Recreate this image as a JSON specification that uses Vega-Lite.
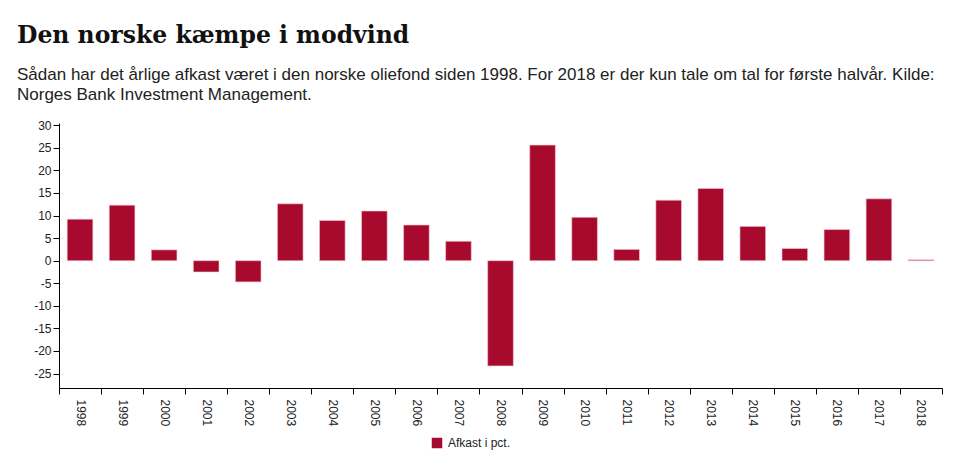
{
  "$schema": "https://vega.github.io/schema/vega-lite/v6.json",
  "autosize": {"type": "none"},
  "width": 883,
  "height": 265,
  "padding": {"left": 59, "top": 123, "right": 18, "bottom": 64},
  "background": "white",
  "title": {
    "text": "Den norske kæmpe i modvind",
    "subtitle": ["Sådan har det årlige afkast været i den norske oliefond siden 1998. For 2018 er der kun tale om tal for første halvår. Kilde:", "Norges Bank Investment Management."],
    "anchor": "start",
    "frame": "group",
    "dx": -42,
    "offset": 16,
    "font": "DejaVu Serif",
    "fontSize": 23.5,
    "fontWeight": "bold",
    "color": "#111",
    "subtitleFont": "Liberation Sans",
    "subtitleFontSize": 17,
    "subtitleColor": "#222",
    "subtitleLineHeight": 20,
    "subtitlePadding": 20
  },
  "data": {
    "values": [
      {"year": "1998", "value": 9.2, "serie": "Afkast i pct."},
      {"year": "1999", "value": 12.3, "serie": "Afkast i pct."},
      {"year": "2000", "value": 2.4, "serie": "Afkast i pct."},
      {"year": "2001", "value": -2.5, "serie": "Afkast i pct."},
      {"year": "2002", "value": -4.7, "serie": "Afkast i pct."},
      {"year": "2003", "value": 12.6, "serie": "Afkast i pct."},
      {"year": "2004", "value": 8.9, "serie": "Afkast i pct."},
      {"year": "2005", "value": 11.0, "serie": "Afkast i pct."},
      {"year": "2006", "value": 7.9, "serie": "Afkast i pct."},
      {"year": "2007", "value": 4.3, "serie": "Afkast i pct."},
      {"year": "2008", "value": -23.3, "serie": "Afkast i pct."},
      {"year": "2009", "value": 25.6, "serie": "Afkast i pct."},
      {"year": "2010", "value": 9.6, "serie": "Afkast i pct."},
      {"year": "2011", "value": 2.5, "serie": "Afkast i pct."},
      {"year": "2012", "value": 13.4, "serie": "Afkast i pct."},
      {"year": "2013", "value": 16.0, "serie": "Afkast i pct."},
      {"year": "2014", "value": 7.6, "serie": "Afkast i pct."},
      {"year": "2015", "value": 2.7, "serie": "Afkast i pct."},
      {"year": "2016", "value": 6.9, "serie": "Afkast i pct."},
      {"year": "2017", "value": 13.7, "serie": "Afkast i pct."},
      {"year": "2018", "value": 0.2, "serie": "Afkast i pct."}
    ]
  },
  "mark": {"type": "bar", "width": {"band": 0.61}, "stroke": "#f3c8d0", "strokeWidth": 0.6},
  "encoding": {
    "x": {
      "field": "year",
      "type": "ordinal",
      "title": null,
      "scale": {"paddingInner": 0, "paddingOuter": 0},
      "axis": {
        "tickBand": "extent",
        "labelAngle": 90,
        "labelAlign": "left",
        "labelBaseline": "middle",
        "labelFont": "Liberation Sans",
        "labelFontSize": 12,
        "labelColor": "#222",
        "domainColor": "#000",
        "tickColor": "#000",
        "tickSize": 6,
        "labelPadding": 5
      }
    },
    "y": {
      "field": "value",
      "type": "quantitative",
      "title": null,
      "scale": {"domain": [-28.2, 30.5], "nice": false, "zero": false},
      "axis": {
        "values": [-25, -20, -15, -10, -5, 0, 5, 10, 15, 20, 25, 30],
        "labelExpr": "replace(datum.label, '\u2212', '-')",
        "grid": false,
        "labelFont": "Liberation Sans",
        "labelFontSize": 12,
        "labelColor": "#222",
        "domainColor": "#000",
        "tickColor": "#000",
        "tickSize": 6,
        "labelPadding": 2
      }
    },
    "color": {
      "field": "serie",
      "type": "nominal",
      "title": null,
      "scale": {"range": ["#a80a2e"]},
      "legend": {
        "orient": "none",
        "legendX": 372,
        "legendY": 314,
        "padding": 0,
        "symbolType": "square",
        "symbolSize": 110,
        "symbolStrokeWidth": 0,
        "labelFont": "Liberation Sans",
        "labelFontSize": 12,
        "labelColor": "#222",
        "labelOffset": 5
      }
    }
  },
  "config": {"view": {"stroke": null}}
}
